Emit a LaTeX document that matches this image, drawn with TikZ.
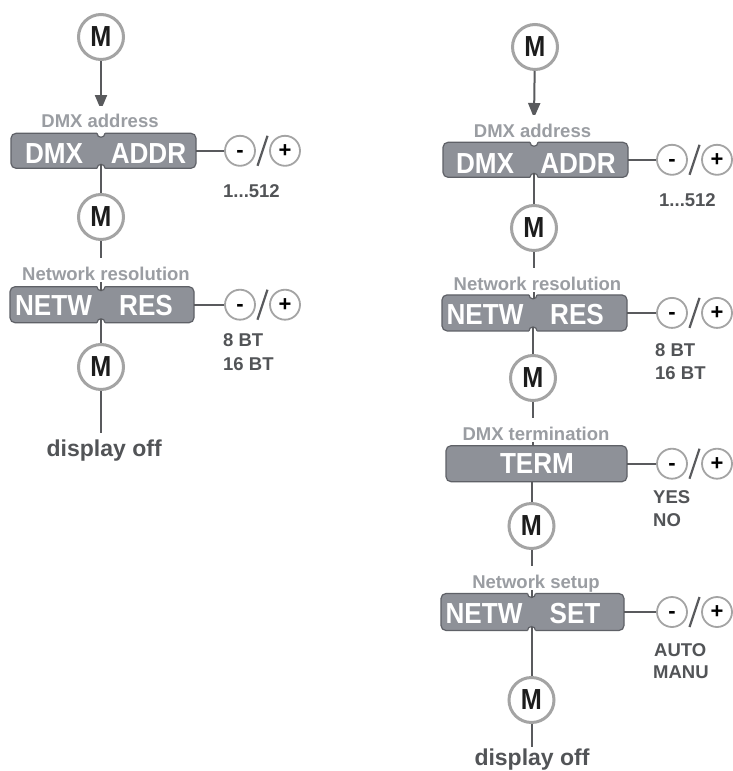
\documentclass[tikz,border=0pt]{standalone}
\usepackage{fontspec}
\setmainfont{Liberation Sans}
\newfontfamily\boxfont[FakeStretch=0.9]{Liberation Sans}
\newfontfamily\mfont[FakeStretch=0.87]{Liberation Sans}
\usetikzlibrary{arrows.meta,calc}
\definecolor{boxfill}{HTML}{8E9198}
\definecolor{boxline}{HTML}{5F6167}
\definecolor{lblgray}{HTML}{9A9DA2}
\definecolor{circgray}{HTML}{A4A4A4}
\definecolor{lngray}{HTML}{595A5D}
\definecolor{optgray}{HTML}{525457}
\definecolor{mblack}{HTML}{1C1C1C}
\newcommand\fsz[1]{\fontsize{#1}{#1}\selectfont}
\newcommand\notchT[1]{%
  \fill[white] ($(#1)+(-4,-1.5)$) -- ($(#1)+(-4,0)$) arc[start angle=180,end angle=0,radius=4] -- ($(#1)+(4,-1.5)$) -- cycle;
  \draw[boxline,line width=1.2pt] ($(#1)+(-4,0)$) arc[start angle=180,end angle=0,radius=4];}
\newcommand\notchB[1]{%
  \fill[white] ($(#1)+(-4,1.5)$) -- ($(#1)+(-4,0)$) arc[start angle=180,end angle=360,radius=4] -- ($(#1)+(4,1.5)$) -- cycle;
  \draw[boxline,line width=1.2pt] ($(#1)+(-4,0)$) arc[start angle=180,end angle=360,radius=4];}
\tikzset{
  mcirc/.style={circle, draw=circgray, line width=3pt, fill=white, minimum size=45pt, inner sep=0pt, text=mblack, font=\mfont\bfseries\fsz{29}},
  pm/.style={circle, draw=circgray, line width=1.8pt, fill=white, minimum size=30pt, inner sep=0pt, text=black, font=\bfseries\fsz{22}},
  dbox/.style={rectangle, rounded corners=5pt, draw=boxline, line width=1.2pt, fill=boxfill, inner sep=0pt, outer sep=0pt},
  btext/.style={text=white, font=\boxfont\bfseries\fsz{29}, anchor=base, inner sep=0pt},
  lbl/.style={text=lblgray, font=\bfseries\fsz{18.5}, anchor=base, fill=white, inner sep=0pt, text height=22pt, text depth=1.5pt},
  opt/.style={text=optgray, font=\bfseries\fsz{18.5}, anchor=base west, inner sep=0pt},
  offst/.style={text=optgray, font=\bfseries\fsz{23}, anchor=base, inner sep=0pt},
  conn/.style={draw=lngray, line width=2pt},
  arr/.style={conn, -{Triangle[length=15pt,width=12pt]}},
  slashst/.style={draw=lngray, line width=2.2pt},
}
\begin{document}
\begin{tikzpicture}[x=1pt,y=-1pt]
\useasboundingbox[fill=white] (0,0) rectangle (732,771);
% ---------- boxes ----------
\node[dbox, minimum width=185pt, minimum height=35pt] (Lb1) at (103.5,150.8) {};
\node[dbox, minimum width=184pt, minimum height=36pt] (Lb2) at (102,304.7) {};
\node[dbox, minimum width=185pt, minimum height=35pt] (Rb1) at (535.5,159.8) {};
\node[dbox, minimum width=185pt, minimum height=36pt] (Rb2) at (534.5,312.9) {};
\node[dbox, minimum width=181pt, minimum height=36pt] (Rb3) at (536.5,463.7) {};
\node[dbox, minimum width=183pt, minimum height=37pt] (Rb4) at (532.5,612) {};
% ---------- M circles ----------
\node[mcirc] (L1) at (101,37) {M};
\node[mcirc] (L2) at (101,217) {M};
\node[mcirc] (L3) at (101,367) {M};
\node[mcirc] (R1) at (535,47) {M};
\node[mcirc] (R2) at (534,228) {M};
\node[mcirc] (R3) at (533,378) {M};
\node[mcirc] (R4) at (531.5,526) {M};
\node[mcirc] (R5) at (531.5,700) {M};
% ---------- notches ----------
\notchT{L2 |- Lb1.north}
\notchB{L2 |- Lb1.south}
\notchT{L3 |- Lb2.north}
\notchB{L3 |- Lb2.south}
\notchT{R2 |- Rb1.north}
\notchB{R2 |- Rb1.south}
\notchT{R3 |- Rb2.north}
\notchB{R3 |- Rb2.south}
\notchT{R5 |- Rb4.north}
\notchB{R5 |- Rb4.south}
% ---------- minus / plus ----------
\node[pm] (Lm1) at (240,150.8) {\vphantom{+}-};
\node[pm] (Lp1) at (285,150.8) {+};
\node[pm] (Lm2) at (240,304.7) {\vphantom{+}-};
\node[pm] (Lp2) at (285,304.7) {+};
\node[pm] (Rm1) at (672,159.8) {\vphantom{+}-};
\node[pm] (Rp1) at (717,159.8) {+};
\node[pm] (Rm2) at (672,312.9) {\vphantom{+}-};
\node[pm] (Rp2) at (717,312.9) {+};
\node[pm] (Rm3) at (672,463.7) {\vphantom{+}-};
\node[pm] (Rp3) at (717,463.7) {+};
\node[pm] (Rm4) at (672,612) {\vphantom{+}-};
\node[pm] (Rp4) at (717,612) {+};
% ---------- free ends ----------
\coordinate (La) at (101,110);
\coordinate (Ra) at (534,118);
\coordinate (Le) at (101,433);
\coordinate (Re) at (531.5,746.5);
% ---------- connectors ----------
\draw[arr] (L1) -- (La);
\draw[conn] ($(L2 |- Lb1.south)+(0,-4)$) -- (L2);
\draw[conn] (L2) -- ($(L2 |- Lb2.north)+(0,4)$);
\draw[conn] ($(L3 |- Lb2.south)+(0,-4)$) -- (L3);
\draw[conn] (L3) -- (Le);
\draw[arr] (R1) -- (Ra);
\draw[conn] ($(R2 |- Rb1.south)+(0,-4)$) -- (R2);
\draw[conn] (R2) -- ($(R2 |- Rb2.north)+(0,4)$);
\draw[conn] ($(R3 |- Rb2.south)+(0,-4)$) -- (R3);
\draw[conn] (R3) -- (R3 |- Rb3.north);
\draw[conn] (R4 |- Rb3.south) -- (R4);
\draw[conn] (R4) -- ($(R5 |- Rb4.north)+(0,4)$);
\draw[conn] ($(R5 |- Rb4.south)+(0,-4)$) -- (R5);
\draw[conn] (R5) -- (Re);
\foreach \b/\m in {Lb1/Lm1, Lb2/Lm2, Rb1/Rm1, Rb2/Rm2, Rb3/Rm3, Rb4/Rm4}{
  \draw[conn] (\b.east) -- (\m);
}
\foreach \m/\p in {Lm1/Lp1, Lm2/Lp2, Rm1/Rp1, Rm2/Rp2, Rm3/Rp3, Rm4/Rp4}{
  \draw[slashst] ($(\m)!0.5!(\p)+(-5,15)$) -- ($(\m)!0.5!(\p)+(5,-15)$);
}
% ---------- box texts ----------
\node[btext] (t1) at (54,163) {DMX};
\node[btext] (t2) at (148.5,163) {ADDR};
\node[btext] (t3) at (53.5,315) {NETW};
\node[btext] (t4) at (146,315) {RES};
\node[btext] (t5) at (485,173) {DMX};
\node[btext] (t6) at (578,173) {ADDR};
\node[btext] (t7) at (485,324) {NETW};
\node[btext] (t8) at (577,324) {RES};
\node[btext] (t9) at (537,473) {TERM};
\node[btext] (t10) at (484,623) {NETW};
\node[btext] (t11) at (575,623) {SET};
% ---------- labels ----------
\node[lbl] (l1) at (100,127.7) {DMX address};
\node[lbl] (l2) at (106,280) {Network resolution};
\node[lbl] (l3) at (532.5,137) {DMX address};
\node[lbl] (l4) at (537.5,290) {Network resolution};
\node[lbl] (l5) at (536,440) {DMX termination};
\node[lbl] (l6) at (536,588) {Network setup};
% ---------- options ----------
\node[opt] (o1) at (223,197) {1...512};
\node[opt] (o2) at (223,346.7) {8 BT};
\node[opt] (o3) at (223,370) {16 BT};
\node[opt] (o4) at (659,206.5) {1...512};
\node[opt] (o5) at (655,356.5) {8 BT};
\node[opt] (o6) at (655,379) {16 BT};
\node[opt] (o7) at (653,503) {YES};
\node[opt] (o8) at (653,526) {NO};
\node[opt] (o9) at (654,656.5) {AUTO};
\node[opt] (o10) at (653,678) {MANU};
% ---------- display off ----------
\node[offst] (Loff) at (104.2,456.7) {display off};
\node[offst] (Roff) at (532,765) {display off};
\end{tikzpicture}
\end{document}
